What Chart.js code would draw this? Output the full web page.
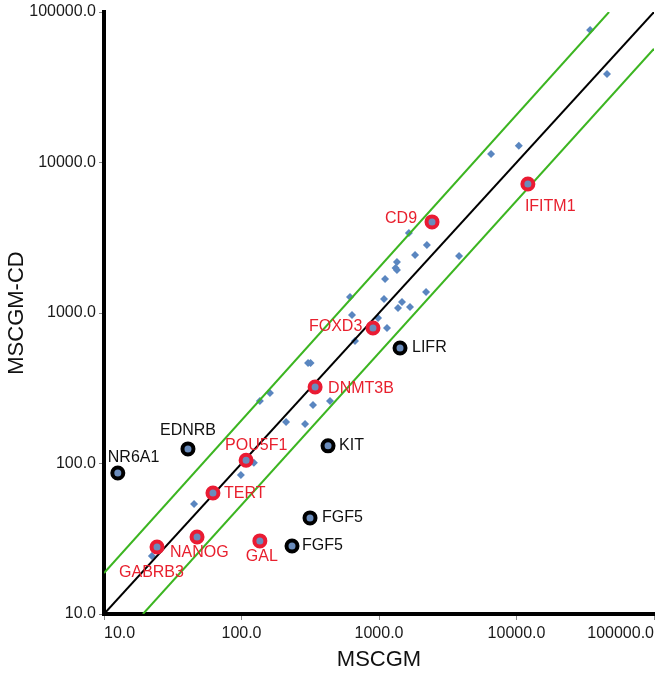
<!DOCTYPE html>
<html>
<head>
<meta charset="utf-8">
<script src="https://cdn.jsdelivr.net/npm/chart.js@4.4.1/dist/chart.umd.min.js"></script>
<style>
  body { margin: 0; background: #fff; }
  #wrap { width: 664px; height: 674px; }
</style>
</head>
<body>
<div id="wrap"><canvas id="chart"></canvas></div>
<script>
// tick values used on both log axes
const tickValues = [10, 100, 1000, 10000, 100000];

// other genes (MSCGM vs MSCGM-CD)
const otherX = [34300, 45500, 10400, 6530, 1650, 2230, 1830, 1350, 1320, 1350, 3820, 1107, 2200, 1087, 1470, 1375, 1680, 1143, 615, 636, 984, 669, 305, 318, 440, 331, 136, 161, 211, 290, 123, 99, 45.2, 22.3];
const otherY = [75900, 38700, 12900, 11400, 3400, 2830, 2430, 2180, 1990, 1930, 2390, 1680, 1380, 1240, 1183, 1080, 1097, 795, 1276, 970, 927, 652, 466, 466, 260, 245, 260, 294, 189, 183, 101, 84, 53.9, 24.3];

// pluripotency genes marked in red
const redGenes = ["IFITM1", "CD9", "FOXD3", "DNMT3B", "POU5F1", "TERT", "NANOG", "GAL", "GABRB3"];
const redX = [12100, 2430, 904, 343, 108, 62, 47.5, 136, 24.3];
const redY = [7190, 4030, 795, 322, 105, 63.7, 32.5, 30.6, 27.9];

// genes marked in black
const blackGenes = ["LIFR", "KIT", "EDNRB", "NR6A1", "FGF5", "FGF5"];
const blackX = [1422, 426, 40.8, 12.6, 315, 233];
const blackY = [585, 131, 125, 86.5, 43.5, 28.3];

// y = x line and the two-fold lines
const diagX = [10, 100000];
const diagY = [10, 100000];
const upperX = [10, 47100];
const upperY = [18.7, 100000];
const lowerX = [19.2, 100000];
const lowerY = [10, 57000];

// label offsets from the point, in px
const redLabelPos = [[-3, 23], [-47, -3], [-64, -1], [13, 2], [-21, -15], [11, 1], [-27, 16], [-14, 16], [-38, 26]];
const blackLabelPos = [[12, 0], [11, 0], [-28, -18], [-10, -15], [12, 0], [10, 0]];

const pts = (xs, ys) => xs.map((x, i) => ({ x: x, y: ys[i] }));

const geneLabels = {
  id: "geneLabels",
  afterDatasetsDraw(chart) {
    const ctx = chart.ctx;
    ctx.save();
    ctx.textBaseline = "middle";
    ctx.textAlign = "left";
    [[1, redGenes, redLabelPos, "#e8202e"], [2, blackGenes, blackLabelPos, "#111"]].forEach(([di, names, pos, col]) => {
      ctx.fillStyle = col;
      ctx.font = "16px 'Liberation Sans', Arial, sans-serif";
      chart.getDatasetMeta(di).data.forEach((p, i) => {
        ctx.fillText(names[i], p.x + pos[i][0], p.y + pos[i][1]);
      });
    });
    ctx.restore();
  }
};

const tickFont = { family: "'Liberation Sans', Arial, sans-serif", size: 16 };
const titleFont = { family: "'Liberation Sans', Arial, sans-serif", size: 22 };

new Chart(document.getElementById("chart"), {
  type: "scatter",
  data: {
    datasets: [
      { data: pts(otherX, otherY), pointStyle: "rectRot", pointRadius: 4, borderWidth: 0, backgroundColor: "#5a86c0", order: 2 },
      { data: pts(redX, redY), pointRadius: 5.5, borderWidth: 4, borderColor: "#ea1b33", backgroundColor: "#6a8cbc", order: 0 },
      { data: pts(blackX, blackY), pointRadius: 5.5, borderWidth: 4, borderColor: "#000", backgroundColor: "#6a8cbc", order: 0 },
      { data: pts(diagX, diagY), showLine: true, pointRadius: 0, borderColor: "#000", borderWidth: 2, order: 1 },
      { data: pts(upperX, upperY), showLine: true, pointRadius: 0, borderColor: "#3cb521", borderWidth: 2, order: 1 },
      { data: pts(lowerX, lowerY), showLine: true, pointRadius: 0, borderColor: "#3cb521", borderWidth: 2, order: 1 }
    ]
  },
  options: {
    responsive: true,
    maintainAspectRatio: false,
    animation: false,
    layout: { padding: { top: 12, right: 10, left: 0, bottom: 0 } },
    plugins: { legend: { display: false }, tooltip: { enabled: false } },
    scales: {
      x: {
        type: "logarithmic",
        min: 10,
        max: 100000,
        afterBuildTicks: (s) => { s.ticks = tickValues.map((v) => ({ value: v })); },
        afterFit: (s) => { s.height = 60; s.paddingLeft = 0; s.paddingRight = 0; },
        grid: { drawOnChartArea: false, tickLength: 6, color: "#888" },
        border: { color: "#000", width: 4 },
        ticks: { align: "inner", padding: 4, color: "#1a1a1a", font: tickFont, maxRotation: 0, autoSkip: false, callback: (v) => Number(v).toFixed(1) },
        title: { display: true, text: "MSCGM", color: "#111", font: titleFont, padding: { top: 0, bottom: 1 } }
      },
      y: {
        type: "logarithmic",
        min: 10,
        max: 100000,
        afterBuildTicks: (s) => { s.ticks = tickValues.map((v) => ({ value: v })); },
        afterFit: (s) => { s.width = 104; s.paddingTop = 0; s.paddingBottom = 0; },
        grid: { drawOnChartArea: false, tickLength: 5, color: "#888" },
        border: { color: "#000", width: 4 },
        ticks: { padding: 3, color: "#1a1a1a", font: tickFont, autoSkip: false, callback: (v) => Number(v).toFixed(1) },
        title: { display: true, text: "MSCGM-CD", color: "#111", font: titleFont, padding: { top: 4, bottom: 0 } }
      }
    }
  },
  plugins: [geneLabels]
});
</script>
</body>
</html>
